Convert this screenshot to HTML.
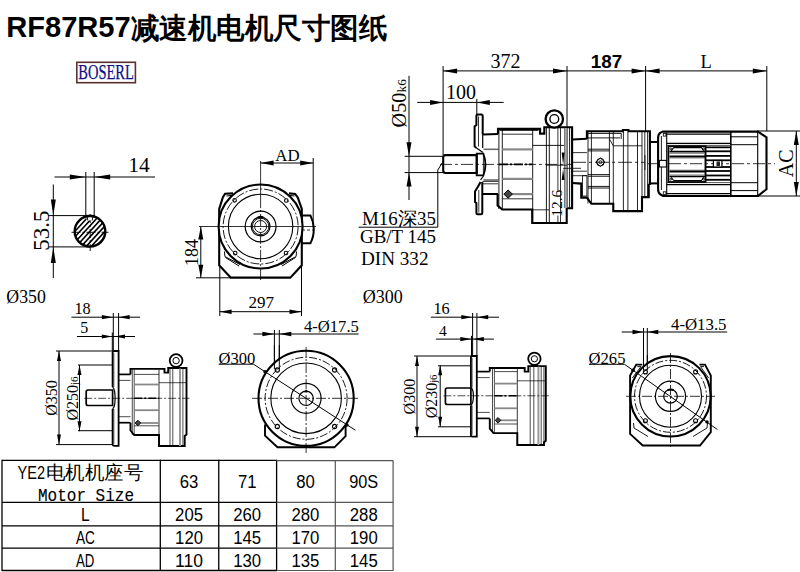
<!DOCTYPE html>
<html><head><meta charset="utf-8"><style>
html,body{margin:0;padding:0;background:#fff;width:800px;height:572px;overflow:hidden}
svg{display:block}
</style></head><body>
<svg width="800" height="572" viewBox="0 0 800 572"><text x="6.2" y="37.4" font-family='"Liberation Sans", sans-serif' font-size="29.5" font-weight="bold" fill="#000" textLength="124.5" lengthAdjust="spacingAndGlyphs">RF87R57</text>
<text x="130.5" y="38" font-family='"Liberation Sans", sans-serif' font-size="28.5" font-weight="bold" fill="#000" textLength="256.5" lengthAdjust="spacingAndGlyphs">减速机电机尺寸图纸</text>
<rect x="76.8" y="62.3" width="58.6" height="20.4" stroke="#5a3030" stroke-width="1.6" fill="none" />
<text x="78.3" y="79" font-family='"Liberation Serif", serif' font-size="20.5" text-anchor="start" font-weight="normal" fill="#101088" textLength="55.6" lengthAdjust="spacingAndGlyphs" stroke="#101088" stroke-width="0.25">BOSERL</text>
<line x1="54.5" y1="177" x2="155" y2="177" stroke="#000" stroke-width="1" />
<polygon points="85.80,177.00 69.80,174.50 69.80,179.50" fill="#000"/>
<polygon points="94.20,177.00 110.20,174.50 110.20,179.50" fill="#000"/>
<line x1="85.8" y1="172" x2="85.8" y2="216" stroke="#000" stroke-width="1" />
<line x1="94.2" y1="172" x2="94.2" y2="216" stroke="#000" stroke-width="1" />
<text x="128.3" y="172.2" font-family='"Liberation Serif", serif' font-size="21.5" text-anchor="start" font-weight="normal" fill="#000" >14</text>
<line x1="53.3" y1="184.5" x2="53.3" y2="278" stroke="#000" stroke-width="1" />
<polygon points="53.30,215.60 50.80,199.60 55.80,199.60" fill="#000"/>
<polygon points="53.30,246.90 50.80,262.90 55.80,262.90" fill="#000"/>
<line x1="48.4" y1="215.6" x2="86" y2="215.6" stroke="#000" stroke-width="1" />
<line x1="48.4" y1="246.9" x2="90" y2="246.9" stroke="#000" stroke-width="1" />
<text transform="translate(48.7,230.6) rotate(-90)" font-family='"Liberation Serif", serif' font-size="23" text-anchor="middle" fill="#000" >53.5</text>
<clipPath id="kc"><circle cx="90" cy="231.3" r="15.2"/></clipPath>
<g clip-path="url(#kc)"><line x1="25" y1="253.3" x2="65" y2="209.3" stroke="#000" stroke-width="1.6"/><line x1="30" y1="253.3" x2="70" y2="209.3" stroke="#000" stroke-width="1.6"/><line x1="35" y1="253.3" x2="75" y2="209.3" stroke="#000" stroke-width="1.6"/><line x1="40" y1="253.3" x2="80" y2="209.3" stroke="#000" stroke-width="1.6"/><line x1="45" y1="253.3" x2="85" y2="209.3" stroke="#000" stroke-width="1.6"/><line x1="50" y1="253.3" x2="90" y2="209.3" stroke="#000" stroke-width="1.6"/><line x1="55" y1="253.3" x2="95" y2="209.3" stroke="#000" stroke-width="1.6"/><line x1="60" y1="253.3" x2="100" y2="209.3" stroke="#000" stroke-width="1.6"/><line x1="65" y1="253.3" x2="105" y2="209.3" stroke="#000" stroke-width="1.6"/><line x1="70" y1="253.3" x2="110" y2="209.3" stroke="#000" stroke-width="1.6"/><line x1="75" y1="253.3" x2="115" y2="209.3" stroke="#000" stroke-width="1.6"/><line x1="80" y1="253.3" x2="120" y2="209.3" stroke="#000" stroke-width="1.6"/><line x1="85" y1="253.3" x2="125" y2="209.3" stroke="#000" stroke-width="1.6"/><line x1="90" y1="253.3" x2="130" y2="209.3" stroke="#000" stroke-width="1.6"/><line x1="95" y1="253.3" x2="135" y2="209.3" stroke="#000" stroke-width="1.6"/><line x1="100" y1="253.3" x2="140" y2="209.3" stroke="#000" stroke-width="1.6"/><line x1="105" y1="253.3" x2="145" y2="209.3" stroke="#000" stroke-width="1.6"/><line x1="110" y1="253.3" x2="150" y2="209.3" stroke="#000" stroke-width="1.6"/><line x1="115" y1="253.3" x2="155" y2="209.3" stroke="#000" stroke-width="1.6"/></g>
<line x1="71.5" y1="232.3" x2="108.5" y2="232.3" stroke="#000" stroke-width="0.9" stroke-dasharray="9 2 2 2"/>
<line x1="90.2" y1="214" x2="90.2" y2="251" stroke="#000" stroke-width="0.9" stroke-dasharray="9 2 2 2"/>
<path d="M85.8,215.6 L94.2,215.6 L93,220.5 L87,220.5 Z" fill="#fff" stroke="none"/>
<path d="M87.2,216.5 L87.8,220.5 M92.8,216.5 L92.2,220.5" stroke="#000" stroke-width="0.9" fill="none" />
<circle cx="90" cy="231.3" r="15.3" stroke="#000" stroke-width="2.4" fill="none" />
<line x1="85.3" y1="215.8" x2="94.7" y2="215.8" stroke="#000" stroke-width="1.8" />
<text x="6.3" y="302.7" font-family='"Liberation Serif", serif' font-size="17.8" text-anchor="start" font-weight="normal" fill="#000" >Ø350</text>
<line x1="260.6" y1="163" x2="313.2" y2="163" stroke="#000" stroke-width="1" />
<polygon points="260.60,163.00 273.60,160.50 273.60,165.50" fill="#000"/>
<polygon points="313.20,163.00 300.20,160.50 300.20,165.50" fill="#000"/>
<line x1="313.2" y1="158" x2="313.2" y2="221" stroke="#000" stroke-width="1" />
<text x="275.3" y="161" font-family='"Liberation Serif", serif' font-size="16.8" text-anchor="start" font-weight="normal" fill="#000" >AD</text>
<path d="M233,193.4 L225.1,193.7 L222.9,197.2 L219.2,209 L219.2,265.3 L230.8,277.6 L290.3,277.6 L301.8,265.3 L301.8,209 L297.8,197.6 L295.2,193.9 L289,193.4" stroke="#000" stroke-width="2.1" fill="none" />
<path d="M226.5,196 L231.5,195.4 L222.5,208 M294.5,196 L289.5,195.4 L298.5,208" stroke="#000" stroke-width="1.0" fill="none" />
<path d="M224.5,251.5 L224.9,256.5 L240,264.5 M296.5,251.5 L296.1,256.5 L281,264.5 M225.5,257.5 L239,266 M295.5,257.5 L282,266" stroke="#000" stroke-width="1.0" fill="none" />
<circle cx="260.6" cy="226.5" r="42" stroke="#000" stroke-width="2.1" fill="#fff" />
<circle cx="260.6" cy="226.5" r="37.5" stroke="#000" stroke-width="0.9" fill="none" stroke-dasharray="9 2 2 2"/>
<circle cx="260.6" cy="226.5" r="32.2" stroke="#000" stroke-width="1.1" fill="none" />
<circle cx="260.6" cy="226.5" r="15.4" stroke="#000" stroke-width="1.2" fill="none" />
<circle cx="260.6" cy="226.5" r="9.4" stroke="#000" stroke-width="1.2" fill="none" />
<circle cx="260.6" cy="226.5" r="8.2" stroke="#000" stroke-width="0.9" fill="none" />
<circle cx="260.6" cy="226.5" r="6.0" stroke="#000" stroke-width="0.9" fill="none" />
<path d="M258.0,217.6 Q260.6,216.3 263.20000000000005,217.6" stroke="#000" stroke-width="2.2" fill="none" />
<circle cx="234.6" cy="200.3" r="1.8" stroke="#000" stroke-width="1.1" fill="none" />
<circle cx="286.3" cy="200.5" r="1.8" stroke="#000" stroke-width="1.1" fill="none" />
<circle cx="235.2" cy="253.1" r="1.8" stroke="#000" stroke-width="1.1" fill="none" />
<circle cx="286" cy="253" r="1.8" stroke="#000" stroke-width="1.1" fill="none" />
<path d="M301.4,215.4 L310.4,215.4 Q313.8,222 313.8,229 Q313.8,237 310.4,243.2 L301.4,243.2" stroke="#000" stroke-width="2" fill="none" />
<line x1="302" y1="230" x2="313" y2="230" stroke="#000" stroke-width="0.8" stroke-dasharray="3 2"/>
<line x1="260.6" y1="161" x2="260.6" y2="196" stroke="#000" stroke-width="0.8" />
<line x1="260.6" y1="196" x2="260.6" y2="281" stroke="#000" stroke-width="0.8" stroke-dasharray="12 2 2 2"/>
<line x1="199" y1="226.5" x2="316" y2="226.5" stroke="#000" stroke-width="0.8" />
<line x1="200.8" y1="226.5" x2="200.8" y2="277.8" stroke="#000" stroke-width="1" />
<polygon points="200.80,226.50 198.30,239.50 203.30,239.50" fill="#000"/>
<polygon points="200.80,277.80 198.30,264.80 203.30,264.80" fill="#000"/>
<line x1="196" y1="277.8" x2="231" y2="277.8" stroke="#000" stroke-width="1" />
<text transform="translate(198,252.6) rotate(-90)" font-family='"Liberation Serif", serif' font-size="18" text-anchor="middle" fill="#000" >184</text>
<line x1="219.8" y1="266" x2="219.8" y2="316" stroke="#000" stroke-width="1" />
<line x1="301.5" y1="266" x2="301.5" y2="316" stroke="#000" stroke-width="1" />
<line x1="443.1" y1="66" x2="443.1" y2="155" stroke="#000" stroke-width="1" />
<line x1="567" y1="66" x2="567" y2="127" stroke="#000" stroke-width="1" />
<line x1="645.6" y1="66" x2="645.6" y2="131" stroke="#000" stroke-width="1" />
<line x1="766.8" y1="66" x2="766.8" y2="131" stroke="#000" stroke-width="1" />
<line x1="443.1" y1="70.9" x2="766.8" y2="70.9" stroke="#000" stroke-width="1" />
<polygon points="443.10,70.90 457.10,68.40 457.10,73.40" fill="#000"/>
<polygon points="567.00,70.90 553.00,68.40 553.00,73.40" fill="#000"/>
<polygon points="645.60,70.90 631.60,68.40 631.60,73.40" fill="#000"/>
<polygon points="645.60,70.90 659.60,68.40 659.60,73.40" fill="#000"/>
<polygon points="766.80,70.90 752.80,68.40 752.80,73.40" fill="#000"/>
<text x="490.5" y="67.5" font-family='"Liberation Serif", serif' font-size="20" text-anchor="start" font-weight="normal" fill="#000" >372</text>
<text x="590.8" y="67.8" font-family='"Liberation Sans", sans-serif' font-size="18.3" text-anchor="start" font-weight="bold" fill="#000" textLength="31.5" lengthAdjust="spacingAndGlyphs">187</text>
<text x="700.4" y="67.6" font-family='"Liberation Serif", serif' font-size="19" text-anchor="start" font-weight="normal" fill="#000" textLength="11.3" lengthAdjust="spacingAndGlyphs">L</text>
<line x1="417.2" y1="102.4" x2="503.7" y2="102.4" stroke="#000" stroke-width="1" />
<polygon points="443.10,102.40 430.10,99.90 430.10,104.90" fill="#000"/>
<polygon points="476.80,102.40 489.80,99.90 489.80,104.90" fill="#000"/>
<line x1="476.8" y1="99" x2="476.8" y2="115" stroke="#000" stroke-width="1" />
<text x="446" y="98.9" font-family='"Liberation Serif", serif' font-size="20" text-anchor="start" font-weight="normal" fill="#000" >100</text>
<line x1="409" y1="75.8" x2="409" y2="200" stroke="#000" stroke-width="1" />
<polygon points="409.00,156.30 406.50,142.30 411.50,142.30" fill="#000"/>
<polygon points="409.00,172.60 406.50,186.60 411.50,186.60" fill="#000"/>
<line x1="404.6" y1="156.3" x2="443" y2="156.3" stroke="#000" stroke-width="1" />
<line x1="404.6" y1="172.6" x2="443" y2="172.6" stroke="#000" stroke-width="1" />
<text transform="translate(405.8,103.2) rotate(-90)" font-family='"Liberation Serif", serif' font-size="20.3" text-anchor="middle" fill="#000" >Ø50<tspan font-size="13.5">k6</tspan></text>
<line x1="757" y1="131" x2="800" y2="131" stroke="#000" stroke-width="1" />
<line x1="757" y1="196" x2="800" y2="196" stroke="#000" stroke-width="1" />
<line x1="796.3" y1="131" x2="796.3" y2="196" stroke="#000" stroke-width="1" />
<polygon points="796.30,131.00 793.80,145.00 798.80,145.00" fill="#000"/>
<polygon points="796.30,196.00 793.80,182.00 798.80,182.00" fill="#000"/>
<text transform="translate(792.5,163.3) rotate(-90)" font-family='"Liberation Serif", serif' font-size="20" text-anchor="middle" fill="#000" >AC</text>
<text x="362" y="225" font-family='"Liberation Serif", serif' font-size="18.5" text-anchor="start" font-weight="normal" fill="#000" textLength="74" lengthAdjust="spacingAndGlyphs">M16深35</text>
<line x1="358.7" y1="227.2" x2="437.8" y2="227.2" stroke="#000" stroke-width="1" />
<line x1="437.8" y1="227.2" x2="437.8" y2="170" stroke="#000" stroke-width="1" />
<line x1="437.8" y1="170" x2="442.5" y2="162.5" stroke="#000" stroke-width="1" />
<text x="360" y="242.5" font-family='"Liberation Serif", serif' font-size="18" text-anchor="start" font-weight="normal" fill="#000" textLength="76" lengthAdjust="spacingAndGlyphs">GB/T 145</text>
<text x="361" y="265" font-family='"Liberation Serif", serif' font-size="18" text-anchor="start" font-weight="normal" fill="#000" textLength="67.5" lengthAdjust="spacingAndGlyphs">DIN 332</text>
<line x1="440" y1="164.4" x2="572" y2="164.4" stroke="#000" stroke-width="0.8" stroke-dasharray="12 3 3 3"/>
<line x1="499" y1="164.4" x2="532" y2="164.4" stroke="#000" stroke-width="1.8" stroke-dasharray="9 2 2 2"/>
<line x1="572" y1="162.3" x2="645" y2="162.3" stroke="#000" stroke-width="0.8" stroke-dasharray="14 3 3 3"/>
<line x1="648" y1="163.7" x2="775" y2="163.7" stroke="#000" stroke-width="0.8" stroke-dasharray="12 3 3 3"/>
<path d="M445.5,155.1 L476.7,155.1 L476.7,173 L445.5,173 Q443.2,173 443.2,170.5 L443.2,157.6 Q443.2,155.1 445.5,155.1 Z" stroke="#000" stroke-width="2.1" fill="none" />
<path d="M476.7,153.7 L483.4,153.7 Q487.5,164.4 483.4,175.4 L476.7,175.4 Z" stroke="#000" stroke-width="1.8" fill="none" />
<line x1="483.4" y1="153.7" x2="483.4" y2="175.4" stroke="#000" stroke-width="0.8" />
<path d="M482.7,134.5 L482.7,116 Q482.7,114.5 481.2,114.5 L477.9,114.5 Q476.4,114.5 476.4,116 L476.4,125 L474.6,126.5 L474.6,146.4 L476.5,148" stroke="#000" stroke-width="2" fill="none" />
<line x1="478.5" y1="116.5" x2="478.5" y2="146.5" stroke="#000" stroke-width="0.8" />
<path d="M482.7,134.5 L482.7,148 M476.5,148 L483,152.5" stroke="#000" stroke-width="1.2" fill="none" />
<path d="M482.3,182 L482.3,213 Q482.3,214.3 481,214.3 L477.7,214.3 Q476.4,214.3 476.4,213 L476.4,203 L475,202 L475,191.5 Q478,187 480.5,182" stroke="#000" stroke-width="2" fill="none" />
<line x1="478.8" y1="190" x2="478.8" y2="212.5" stroke="#000" stroke-width="0.8" />
<path d="M480.5,180 L483.5,176" stroke="#000" stroke-width="1.2" fill="none" />
<line x1="482.7" y1="134.5" x2="498" y2="134.1" stroke="#000" stroke-width="2" />
<line x1="482.3" y1="194" x2="498" y2="194" stroke="#000" stroke-width="2" />
<line x1="483.5" y1="149.3" x2="498.5" y2="149.3" stroke="#6a6a6a" stroke-width="1.6" />
<line x1="483.5" y1="180" x2="498.5" y2="180" stroke="#6a6a6a" stroke-width="1.6" />
<line x1="482.5" y1="181.4" x2="498" y2="181.4" stroke="#000" stroke-width="0.8" />
<line x1="482.5" y1="183.8" x2="498" y2="183.8" stroke="#000" stroke-width="0.8" />
<polyline points="498,134.1 498,128.9 540.1,128.9 540.1,133.6 544.3,133.6 544.3,127.3 572.1,127.3 572.1,139.8" stroke="#000" stroke-width="2.1" fill="none" stroke-linejoin="miter" />
<polyline points="497.6,194.1 497.6,205.6 502.3,209.5 532.2,209.5 532.2,223 566.7,223 566.7,208.3 572.1,208.3 572.1,139" stroke="#000" stroke-width="2.1" fill="none" stroke-linejoin="miter" />
<line x1="499.5" y1="130.5" x2="538.5" y2="130.5" stroke="#000" stroke-width="0.8" />
<line x1="498.9" y1="129.5" x2="498.9" y2="209" stroke="#000" stroke-width="0.9" />
<line x1="502.3" y1="129.5" x2="502.3" y2="209" stroke="#000" stroke-width="0.9" />
<line x1="532.7" y1="129.5" x2="532.7" y2="224" stroke="#000" stroke-width="0.9" />
<line x1="502.3" y1="134.2" x2="532.7" y2="134.2" stroke="#000" stroke-width="0.8" />
<line x1="502.3" y1="149.4" x2="532.7" y2="149.4" stroke="#888" stroke-width="2.2" />
<line x1="502.3" y1="178.9" x2="532.7" y2="178.9" stroke="#888" stroke-width="2.2" />
<line x1="510" y1="194.1" x2="532.7" y2="194.1" stroke="#888" stroke-width="2.2" />
<line x1="502.3" y1="198.8" x2="532.7" y2="198.8" stroke="#000" stroke-width="0.8" />
<line x1="532.7" y1="145.4" x2="564.2" y2="145.4" stroke="#000" stroke-width="0.9" />
<line x1="532.2" y1="209.8" x2="549" y2="209.8" stroke="#000" stroke-width="0.8" />
<polygon points="503.8,194.1 508.1,190 512.4,194.1 508.1,198.2" stroke="#000" stroke-width="1" fill="#444" stroke-linejoin="miter" />
<line x1="546.4" y1="128" x2="546.4" y2="223" stroke="#000" stroke-width="0.9" />
<line x1="549.3" y1="128" x2="549.3" y2="223" stroke="#000" stroke-width="0.9" />
<line x1="560.5" y1="128" x2="560.5" y2="223" stroke="#000" stroke-width="0.8" />
<line x1="564.7" y1="128" x2="564.7" y2="208" stroke="#444" stroke-width="0.9" />
<line x1="566" y1="128" x2="566" y2="208" stroke="#aaa" stroke-width="2.2" />
<line x1="567.3" y1="128" x2="567.3" y2="208" stroke="#444" stroke-width="0.9" />
<line x1="569.6" y1="128" x2="569.6" y2="208" stroke="#000" stroke-width="0.9" />
<text transform="translate(562.2,203.2) rotate(-90)" font-family='"Liberation Serif", serif' font-size="15.5" text-anchor="middle" fill="#000" >12.6</text>
<line x1="557.9" y1="128" x2="557.9" y2="190.5" stroke="#000" stroke-width="0.8" />
<line x1="557.9" y1="215.5" x2="557.9" y2="223" stroke="#000" stroke-width="0.8" />
<polygon points="563.10,165.00 561.70,152.60 564.50,152.60" fill="#000"/>
<polygon points="563.10,168.50 561.70,180.00 564.50,180.00" fill="#000"/>
<line x1="546" y1="165.2" x2="567" y2="165.2" stroke="#000" stroke-width="0.8" />
<line x1="563" y1="168.3" x2="581" y2="168.3" stroke="#000" stroke-width="0.8" />
<line x1="549.5" y1="126.6" x2="559.5" y2="126.6" stroke="#000" stroke-width="1.4" />
<circle cx="554.3" cy="119" r="8.7" stroke="#000" stroke-width="2.3" fill="#fff" />
<circle cx="554.3" cy="119" r="4.4" stroke="#000" stroke-width="1.4" fill="none" />
<polyline points="572.1,139.6 586.9,138.7" stroke="#000" stroke-width="2" fill="none" stroke-linejoin="miter" />
<line x1="573" y1="152.6" x2="586.9" y2="152.6" stroke="#000" stroke-width="0.8" />
<line x1="573" y1="171.2" x2="586.9" y2="171.2" stroke="#000" stroke-width="0.8" />
<line x1="573" y1="175.7" x2="586.9" y2="175.7" stroke="#000" stroke-width="0.8" />
<rect x="582.4" y="175.7" width="4.5" height="20.3" stroke="#000" stroke-width="0.8" fill="none" />
<polyline points="572.1,183 581.25,183.6 581.25,197.6 586.9,197.6 591.4,203.8 613.3,203.8 613.3,211.1 642,211.1 642,197.1 648.75,197.1 648.75,184.1" stroke="#000" stroke-width="2.1" fill="none" stroke-linejoin="miter" />
<polyline points="586.9,139 586.9,131.2 622.9,131.2 622.9,130 628.5,130 628.5,131.2 649.9,131.2 649.9,185" stroke="#000" stroke-width="2.1" fill="none" stroke-linejoin="miter" />
<path d="M588,133.4 L621.2,133.4 L621.2,139 M588,137.9 L620,137.9" stroke="#000" stroke-width="0.9" fill="none" />
<line x1="588" y1="132" x2="588" y2="203.5" stroke="#000" stroke-width="0.85" />
<line x1="591.4" y1="132" x2="591.4" y2="203.5" stroke="#000" stroke-width="0.85" />
<line x1="609.4" y1="132" x2="609.4" y2="203.5" stroke="#000" stroke-width="0.85" />
<line x1="613.3" y1="132" x2="613.3" y2="210.5" stroke="#000" stroke-width="0.85" />
<line x1="623.4" y1="132" x2="623.4" y2="210.5" stroke="#000" stroke-width="0.85" />
<line x1="627.9" y1="132" x2="627.9" y2="210.5" stroke="#000" stroke-width="0.85" />
<line x1="637.5" y1="132" x2="637.5" y2="210.5" stroke="#000" stroke-width="0.85" />
<line x1="642" y1="132" x2="642" y2="210.5" stroke="#000" stroke-width="0.85" />
<line x1="644.8" y1="132" x2="644.8" y2="197" stroke="#000" stroke-width="0.85" />
<line x1="647.6" y1="132" x2="647.6" y2="197" stroke="#000" stroke-width="0.85" />
<line x1="609.4" y1="139" x2="613.3" y2="145.8" stroke="#000" stroke-width="0.85" />
<line x1="613.3" y1="145.8" x2="642" y2="145.8" stroke="#000" stroke-width="0.85" />
<line x1="588" y1="149.2" x2="609.4" y2="149.2" stroke="#000" stroke-width="0.9" />
<line x1="588" y1="150.9" x2="609.4" y2="150.9" stroke="#000" stroke-width="0.9" />
<line x1="588" y1="174.6" x2="609.4" y2="174.6" stroke="#000" stroke-width="0.9" />
<line x1="588" y1="176.25" x2="609.4" y2="176.25" stroke="#000" stroke-width="0.9" />
<line x1="588" y1="186.4" x2="609.4" y2="186.4" stroke="#000" stroke-width="0.9" />
<line x1="588" y1="188" x2="609.4" y2="188" stroke="#000" stroke-width="0.9" />
<circle cx="600.4" cy="162.2" r="3.8" stroke="#000" stroke-width="1" fill="none" />
<polygon points="596,162.2 600.4,157.8 604.8,162.2 600.4,166.6" stroke="#000" stroke-width="1" fill="none" stroke-linejoin="miter" />
<circle cx="600.4" cy="162.2" r="1.5" stroke="#000" stroke-width="0.8" fill="none" />
<line x1="644.8" y1="155" x2="644.8" y2="170" stroke="#333" stroke-width="1.4" />
<line x1="649.9" y1="142" x2="658.1" y2="142" stroke="#000" stroke-width="2" />
<line x1="648.75" y1="183.4" x2="658.1" y2="183.4" stroke="#000" stroke-width="2" />
<path d="M658.1,138 Q658.1,134 660.5,132.6 L663,131.6 L757.9,131.6 L766.5,137.3 L766.5,189.2 L757.9,196 L663,196 L660.5,194.5 Q658.1,193 658.1,189.3 Z" stroke="#000" stroke-width="2.1" fill="none" />
<line x1="661.4" y1="136" x2="661.4" y2="190" stroke="#000" stroke-width="0.9" />
<line x1="666.7" y1="132.5" x2="666.7" y2="195" stroke="#000" stroke-width="1.1" />
<line x1="730.8" y1="131.6" x2="730.8" y2="196" stroke="#000" stroke-width="1.6" />
<line x1="757.7" y1="131.6" x2="757.7" y2="196" stroke="#000" stroke-width="1.1" />
<rect x="663.3" y="133.5" width="2.6" height="2.6" stroke="#000" stroke-width="0.8" fill="none" />
<rect x="663.3" y="191.8" width="2.6" height="2.6" stroke="#000" stroke-width="0.8" fill="none" />
<line x1="666.7" y1="134.2" x2="730.8" y2="134.2" stroke="#000" stroke-width="1.2" />
<line x1="666.7" y1="193.6" x2="730.8" y2="193.6" stroke="#000" stroke-width="1.2" />
<line x1="666.7" y1="143.4" x2="730.8" y2="143.4" stroke="#000" stroke-width="1.3" />
<line x1="666.7" y1="145.4" x2="730.8" y2="145.4" stroke="#555" stroke-width="1.0" />
<line x1="666.7" y1="182.6" x2="730.8" y2="182.6" stroke="#555" stroke-width="1.0" />
<line x1="666.7" y1="184.7" x2="730.8" y2="184.7" stroke="#000" stroke-width="1.3" />
<rect x="668.4" y="146.2" width="37.1" height="35.8" stroke="#000" stroke-width="1.8" fill="none" />
<line x1="669.5" y1="151.6" x2="705" y2="151.6" stroke="#000" stroke-width="1.6" />
<line x1="669.5" y1="153.1" x2="705" y2="153.1" stroke="#777" stroke-width="1.2" />
<line x1="669.5" y1="156.3" x2="705" y2="156.3" stroke="#000" stroke-width="1.6" />
<line x1="669.5" y1="157.8" x2="705" y2="157.8" stroke="#000" stroke-width="0.8" />
<line x1="669.5" y1="170.3" x2="705" y2="170.3" stroke="#000" stroke-width="0.8" />
<line x1="669.5" y1="171.8" x2="705" y2="171.8" stroke="#000" stroke-width="1.6" />
<line x1="669.5" y1="175" x2="705" y2="175" stroke="#777" stroke-width="1.2" />
<line x1="669.5" y1="176.5" x2="705" y2="176.5" stroke="#000" stroke-width="1.6" />
<path d="M673.6,147.6 L701.6,147.6 L703.6,150.8 M673.6,147.6 L671.2,150.8 M673.6,180.5 L701.6,180.5 L703.6,177.3 M673.6,180.5 L671.2,177.3" stroke="#000" stroke-width="1.1" fill="none" />
<circle cx="670.8" cy="148.8" r="0.9" stroke="#000" stroke-width="0.8" fill="none" />
<circle cx="703.5" cy="148.8" r="0.9" stroke="#000" stroke-width="0.8" fill="none" />
<circle cx="670.8" cy="179.3" r="0.9" stroke="#000" stroke-width="0.8" fill="none" />
<circle cx="703.5" cy="179.3" r="0.9" stroke="#000" stroke-width="0.8" fill="none" />
<line x1="705.5" y1="147.3" x2="730.8" y2="147.3" stroke="#000" stroke-width="1.8" />
<line x1="705.5" y1="151.3" x2="730.8" y2="151.3" stroke="#000" stroke-width="1.8" />
<line x1="705.5" y1="155.9" x2="730.8" y2="155.9" stroke="#000" stroke-width="1.8" />
<line x1="705.5" y1="160.3" x2="730.8" y2="160.3" stroke="#000" stroke-width="1.8" />
<line x1="705.5" y1="167" x2="730.8" y2="167" stroke="#000" stroke-width="1.8" />
<line x1="705.5" y1="171" x2="730.8" y2="171" stroke="#000" stroke-width="1.8" />
<line x1="705.5" y1="175.5" x2="730.8" y2="175.5" stroke="#000" stroke-width="1.8" />
<line x1="705.5" y1="179.8" x2="730.8" y2="179.8" stroke="#000" stroke-width="1.8" />
<rect x="713.4" y="160.5" width="8.5" height="6.5" stroke="#000" stroke-width="1.2" fill="#fff" />
<rect x="716.5" y="161.5" width="3.5" height="4.5" stroke="#000" stroke-width="0" fill="#222" />
<rect x="659.4" y="160.4" width="7" height="6.6" stroke="#000" stroke-width="1.1" fill="#fff" />
<line x1="705.5" y1="146.2" x2="705.5" y2="182" stroke="#000" stroke-width="1.2" />
<line x1="730.8" y1="136.8" x2="757.7" y2="136.8" stroke="#000" stroke-width="1.0" />
<line x1="730.8" y1="144.7" x2="757.7" y2="144.7" stroke="#000" stroke-width="1.0" />
<line x1="730.8" y1="182.7" x2="757.7" y2="182.7" stroke="#000" stroke-width="1.0" />
<line x1="730.8" y1="190.6" x2="757.7" y2="190.6" stroke="#000" stroke-width="1.0" />
<text x="74.4" y="313.9" font-family='"Liberation Serif", serif' font-size="16.3" text-anchor="start" font-weight="normal" fill="#000" >18</text>
<line x1="71.4" y1="317.2" x2="140.1" y2="317.2" stroke="#000" stroke-width="1" />
<polygon points="112.90,317.20 101.90,315.10 101.90,319.30" fill="#000"/>
<polygon points="118.60,317.20 129.60,315.10 129.60,319.30" fill="#000"/>
<text x="80.3" y="333.3" font-family='"Liberation Serif", serif' font-size="16" text-anchor="start" font-weight="normal" fill="#000" >5</text>
<line x1="77" y1="336.5" x2="135" y2="336.5" stroke="#000" stroke-width="1" />
<polygon points="112.30,336.50 101.80,334.40 101.80,338.60" fill="#000"/>
<polygon points="114.50,336.50 125.00,334.40 125.00,338.60" fill="#000"/>
<line x1="113.3" y1="313" x2="113.3" y2="351" stroke="#000" stroke-width="1" />
<line x1="112.3" y1="332.5" x2="112.3" y2="351" stroke="#000" stroke-width="1" />
<line x1="118.6" y1="313" x2="118.6" y2="351" stroke="#000" stroke-width="1" />
<line x1="59" y1="351" x2="59" y2="444.6" stroke="#000" stroke-width="1" />
<polygon points="59.00,351.00 57.00,361.00 61.00,361.00" fill="#000"/>
<polygon points="59.00,444.60 57.00,434.60 61.00,434.60" fill="#000"/>
<line x1="56" y1="351" x2="112" y2="351" stroke="#000" stroke-width="1" />
<line x1="56" y1="444.6" x2="112" y2="444.6" stroke="#000" stroke-width="1" />
<text transform="translate(56.5,398) rotate(-90)" font-family='"Liberation Serif", serif' font-size="16" text-anchor="middle" fill="#000" >Ø350</text>
<line x1="79.5" y1="365.1" x2="79.5" y2="431.2" stroke="#000" stroke-width="1" />
<polygon points="79.50,365.10 77.50,375.10 81.50,375.10" fill="#000"/>
<polygon points="79.50,431.20 77.50,421.20 81.50,421.20" fill="#000"/>
<line x1="78" y1="365" x2="112" y2="365" stroke="#000" stroke-width="1" />
<line x1="78" y1="430.7" x2="112" y2="430.7" stroke="#000" stroke-width="1" />
<text transform="translate(77.8,398.5) rotate(-90)" font-family='"Liberation Serif", serif' font-size="16" text-anchor="middle" fill="#000" >Ø250<tspan font-size="11">j6</tspan></text>
<path d="M88.0,390 L112.6,390 L112.6,405.5 L88.0,405.5 Q86.2,405.5 86.2,403.5 L86.2,392 Q86.2,390 88.0,390 Z" stroke="#000" stroke-width="1.7" fill="none" />
<path d="M112.6,387 L112.6,352.5 Q112.6,351 114.1,351 L118.6,351 L118.6,445.8 L114.1,445.8 Q112.6,445.8 112.6,444.3 L112.6,409" stroke="#000" stroke-width="1.8" fill="none" />
<path d="M112.6,387 Q115.1,389 115.1,398.3 Q115.1,407 112.6,409" stroke="#000" stroke-width="1.2" fill="none" />
<line x1="113.89999999999999" y1="353" x2="113.89999999999999" y2="387" stroke="#000" stroke-width="0.6" />
<line x1="113.89999999999999" y1="409" x2="113.89999999999999" y2="443.8" stroke="#000" stroke-width="0.6" />
<line x1="118.6" y1="374.4" x2="130.5" y2="374.4" stroke="#000" stroke-width="1.7" />
<line x1="118.6" y1="422.7" x2="130.5" y2="422.7" stroke="#000" stroke-width="1.7" />
<line x1="118.6" y1="380.4" x2="130.5" y2="380.4" stroke="#000" stroke-width="0.7" />
<line x1="118.6" y1="416.7" x2="130.5" y2="416.7" stroke="#000" stroke-width="0.7" />
<polyline points="130.5,374.4 130.5,368.9 164.5,368.9 164.5,372.6 168.2,372.6 168.2,368 186.5,368 186.5,434.5 184.7,436 184.7,446 159,446 159,435 134.2,435 130.5,430.5 130.5,422.7" stroke="#000" stroke-width="1.9" fill="none" stroke-linejoin="miter" />
<line x1="132.3" y1="369.4" x2="132.3" y2="435" stroke="#000" stroke-width="0.7" />
<line x1="134.2" y1="369.4" x2="134.2" y2="435" stroke="#000" stroke-width="0.7" />
<line x1="159" y1="369.4" x2="159" y2="446" stroke="#000" stroke-width="0.8" />
<line x1="170" y1="368.5" x2="170" y2="446" stroke="#000" stroke-width="0.7" />
<line x1="172.8" y1="368.5" x2="172.8" y2="446" stroke="#000" stroke-width="0.7" />
<line x1="180" y1="368.5" x2="180" y2="446" stroke="#999" stroke-width="2.0" />
<line x1="182.9" y1="368.5" x2="182.9" y2="446" stroke="#000" stroke-width="0.7" />
<line x1="134.2" y1="374.4" x2="159" y2="374.4" stroke="#000" stroke-width="0.7" />
<line x1="134.2" y1="384.5" x2="159" y2="384.5" stroke="#888" stroke-width="1.8" />
<line x1="134.2" y1="410.2" x2="159" y2="410.2" stroke="#888" stroke-width="1.8" />
<line x1="140" y1="423" x2="159" y2="423" stroke="#888" stroke-width="1.8" />
<line x1="134.2" y1="425.8" x2="159" y2="425.8" stroke="#000" stroke-width="0.7" />
<line x1="159" y1="382.7" x2="186.5" y2="382.7" stroke="#000" stroke-width="0.7" />
<polygon points="135.1,423 137.9,420.2 140.70000000000002,423 137.9,425.8" stroke="#000" stroke-width="0.9" fill="#444" stroke-linejoin="miter" />
<line x1="172.6" y1="367.4" x2="179.6" y2="367.4" stroke="#000" stroke-width="1.2" />
<circle cx="176.1" cy="360.6" r="6.4" stroke="#000" stroke-width="1.8" fill="#fff" />
<circle cx="176.1" cy="360.6" r="3.2" stroke="#000" stroke-width="1.0" fill="none" />
<line x1="84.2" y1="398.3" x2="189.5" y2="398.3" stroke="#000" stroke-width="0.7" stroke-dasharray="8 2 2 2"/>
<line x1="134.2" y1="398.3" x2="159" y2="398.3" stroke="#000" stroke-width="1.5" stroke-dasharray="8 2 2 2"/>
<text x="248.6" y="308.2" font-family='"Liberation Serif", serif' font-size="17" text-anchor="start" font-weight="normal" fill="#000" >297</text>
<line x1="219.6" y1="311.7" x2="301.5" y2="311.7" stroke="#000" stroke-width="1" />
<polygon points="219.60,311.70 231.60,309.45 231.60,313.95" fill="#000"/>
<polygon points="301.50,311.70 289.50,309.45 289.50,313.95" fill="#000"/>
<text x="304" y="331.7" font-family='"Liberation Serif", serif' font-size="16.6" text-anchor="start" font-weight="normal" fill="#000" >4-Ø17.5</text>
<line x1="253.4" y1="334" x2="358.6" y2="334" stroke="#000" stroke-width="1" />
<polygon points="274.40,334.00 262.40,331.75 262.40,336.25" fill="#000"/>
<polygon points="279.30,334.00 291.30,331.75 291.30,336.25" fill="#000"/>
<line x1="274.4" y1="330" x2="274.4" y2="368" stroke="#000" stroke-width="1" />
<line x1="279.3" y1="330" x2="279.3" y2="368" stroke="#000" stroke-width="1" />
<polyline points="265,424.4 265,435.6 277.5,447.3 334.4,447.3 345.6,436.2 345.6,425" stroke="#000" stroke-width="1.9" fill="none" stroke-linejoin="miter" />
<circle cx="306.1" cy="398.3" r="47.6" stroke="#000" stroke-width="2.1" fill="#fff" />
<circle cx="306.1" cy="398.3" r="41" stroke="#000" stroke-width="0.9" fill="none" stroke-dasharray="8 2 2 2"/>
<circle cx="306.1" cy="398.3" r="35.3" stroke="#000" stroke-width="1.1" fill="none" />
<circle cx="306.1" cy="398.3" r="15" stroke="#000" stroke-width="1.2" fill="none" />
<circle cx="306.1" cy="398.3" r="7.2" stroke="#000" stroke-width="1.2" fill="none" />
<polygon points="303.90000000000003,391.90000000000003 306.1,389.7 308.3,391.90000000000003" stroke="#000" stroke-width="0.5" fill="#000" stroke-linejoin="miter" />
<circle cx="277.3" cy="370" r="2.1" stroke="#000" stroke-width="1.1" fill="none" />
<circle cx="334.6" cy="370" r="2.1" stroke="#000" stroke-width="1.1" fill="none" />
<circle cx="277.3" cy="426.5" r="2.1" stroke="#000" stroke-width="1.1" fill="none" />
<circle cx="334.6" cy="426.5" r="2.1" stroke="#000" stroke-width="1.1" fill="none" />
<line x1="252" y1="398.3" x2="358.6" y2="398.3" stroke="#000" stroke-width="0.8" stroke-dasharray="10 2 2 2"/>
<line x1="306.1" y1="347" x2="306.1" y2="453.6" stroke="#000" stroke-width="0.8" stroke-dasharray="10 2 2 2"/>
<line x1="274.4" y1="345" x2="274.4" y2="369" stroke="#000" stroke-width="1" />
<line x1="279.3" y1="345" x2="279.3" y2="369" stroke="#000" stroke-width="1" />
<text x="218.5" y="364.3" font-family='"Liberation Serif", serif' font-size="16.6" text-anchor="start" font-weight="normal" fill="#000" >Ø300</text>
<line x1="218.7" y1="364.2" x2="253.4" y2="364.2" stroke="#000" stroke-width="1" />
<line x1="253.4" y1="364.2" x2="355.5" y2="430.3" stroke="#000" stroke-width="1" />
<circle cx="265" cy="371.7" r="1.7" stroke="#000" stroke-width="0" fill="#000" />
<circle cx="346.9" cy="425" r="1.7" stroke="#000" stroke-width="0" fill="#000" />
<text x="362.8" y="302.6" font-family='"Liberation Serif", serif' font-size="18" text-anchor="start" font-weight="normal" fill="#000" >Ø300</text>
<text x="433.4" y="314" font-family='"Liberation Serif", serif' font-size="16.3" text-anchor="start" font-weight="normal" fill="#000" >16</text>
<line x1="430.8" y1="317.2" x2="499" y2="317.2" stroke="#000" stroke-width="1" />
<polygon points="472.30,317.20 461.30,315.10 461.30,319.30" fill="#000"/>
<polygon points="477.20,317.20 488.20,315.10 488.20,319.30" fill="#000"/>
<text x="439" y="335.6" font-family='"Liberation Serif", serif' font-size="15.5" text-anchor="start" font-weight="normal" fill="#000" >4</text>
<line x1="435.9" y1="339.1" x2="493.9" y2="339.1" stroke="#000" stroke-width="1" />
<polygon points="471.30,339.10 460.30,337.00 460.30,341.20" fill="#000"/>
<polygon points="472.90,339.10 483.90,337.00 483.90,341.20" fill="#000"/>
<line x1="472.6" y1="313" x2="472.6" y2="356" stroke="#000" stroke-width="1" />
<line x1="471.5" y1="335.9" x2="471.5" y2="356" stroke="#000" stroke-width="1" />
<line x1="476.9" y1="313" x2="476.9" y2="356" stroke="#000" stroke-width="1" />
<line x1="417" y1="356" x2="417" y2="436.7" stroke="#000" stroke-width="1" />
<polygon points="417.00,356.00 415.00,366.00 419.00,366.00" fill="#000"/>
<polygon points="417.00,436.70 415.00,426.70 419.00,426.70" fill="#000"/>
<line x1="414" y1="356" x2="471" y2="356" stroke="#000" stroke-width="1" />
<line x1="414" y1="436.7" x2="471" y2="436.7" stroke="#000" stroke-width="1" />
<text transform="translate(415.2,396.6) rotate(-90)" font-family='"Liberation Serif", serif' font-size="16" text-anchor="middle" fill="#000" >Ø300</text>
<line x1="440.2" y1="365.3" x2="440.2" y2="426.8" stroke="#000" stroke-width="1" />
<polygon points="440.20,365.30 438.20,375.30 442.20,375.30" fill="#000"/>
<polygon points="440.20,426.80 438.20,416.80 442.20,416.80" fill="#000"/>
<line x1="438" y1="365.8" x2="471" y2="365.8" stroke="#000" stroke-width="1" />
<line x1="438" y1="426.8" x2="471" y2="426.8" stroke="#000" stroke-width="1" />
<text transform="translate(437,396.5) rotate(-90)" font-family='"Liberation Serif", serif' font-size="16" text-anchor="middle" fill="#000" >Ø230<tspan font-size="10.5">j6</tspan></text>
<path d="M447.2,388 L470.9,388 L470.9,404.5 L447.2,404.5 Q445.4,404.5 445.4,402.5 L445.4,390 Q445.4,388 447.2,388 Z" stroke="#000" stroke-width="1.7" fill="none" />
<path d="M470.9,387.5 L470.9,357.5 Q470.9,356 472.4,356 L476.8,356 L476.8,436.7 L472.4,436.7 Q470.9,436.7 470.9,435.2 L470.9,405.5" stroke="#000" stroke-width="1.8" fill="none" />
<path d="M470.9,387.5 Q473.4,389.5 473.4,395.8 Q473.4,403.5 470.9,405.5" stroke="#000" stroke-width="1.2" fill="none" />
<line x1="472.2" y1="358" x2="472.2" y2="387.5" stroke="#000" stroke-width="0.6" />
<line x1="472.2" y1="405.5" x2="472.2" y2="434.7" stroke="#000" stroke-width="0.6" />
<line x1="476.8" y1="371.6" x2="489.8" y2="371.6" stroke="#000" stroke-width="1.7" />
<line x1="476.8" y1="418.4" x2="489.8" y2="418.4" stroke="#000" stroke-width="1.7" />
<line x1="476.8" y1="377.6" x2="489.8" y2="377.6" stroke="#000" stroke-width="0.7" />
<line x1="476.8" y1="412.4" x2="489.8" y2="412.4" stroke="#000" stroke-width="0.7" />
<polyline points="489.8,371.6 489.8,368 524.7,368 524.7,371.6 528.3,371.6 528.3,366.1 545.8,366.1 545.8,440.8 544.0,442.3 544.0,445 517.3,445 517.3,433.1 493.5,433.1 489.8,428.6 489.8,418.4" stroke="#000" stroke-width="1.9" fill="none" stroke-linejoin="miter" />
<line x1="492.5" y1="368.5" x2="492.5" y2="433.1" stroke="#000" stroke-width="0.7" />
<line x1="494.4" y1="368.5" x2="494.4" y2="433.1" stroke="#000" stroke-width="0.7" />
<line x1="517.3" y1="368.5" x2="517.3" y2="445" stroke="#000" stroke-width="0.8" />
<line x1="530.2" y1="366.6" x2="530.2" y2="445" stroke="#000" stroke-width="0.7" />
<line x1="533.8" y1="366.6" x2="533.8" y2="445" stroke="#000" stroke-width="0.7" />
<line x1="538.4" y1="366.6" x2="538.4" y2="445" stroke="#999" stroke-width="2.0" />
<line x1="541.2" y1="366.6" x2="541.2" y2="445" stroke="#000" stroke-width="0.7" />
<line x1="543.9" y1="366.6" x2="543.9" y2="445" stroke="#000" stroke-width="0.7" />
<line x1="494.4" y1="371.6" x2="517.3" y2="371.6" stroke="#000" stroke-width="0.7" />
<line x1="494.4" y1="383.6" x2="517.3" y2="383.6" stroke="#888" stroke-width="1.8" />
<line x1="494.4" y1="408.3" x2="517.3" y2="408.3" stroke="#888" stroke-width="1.8" />
<line x1="500" y1="420.3" x2="517.3" y2="420.3" stroke="#888" stroke-width="1.8" />
<line x1="494.4" y1="424" x2="517.3" y2="424" stroke="#000" stroke-width="0.7" />
<line x1="517.3" y1="380.8" x2="545.8" y2="380.8" stroke="#000" stroke-width="0.7" />
<polygon points="495.2,420.3 498,417.5 500.8,420.3 498,423.1" stroke="#000" stroke-width="0.9" fill="#444" stroke-linejoin="miter" />
<line x1="530.9" y1="365.5" x2="537.9" y2="365.5" stroke="#000" stroke-width="1.2" />
<circle cx="534.4" cy="358.8" r="6.2" stroke="#000" stroke-width="1.8" fill="#fff" />
<circle cx="534.4" cy="358.8" r="3.1" stroke="#000" stroke-width="1.0" fill="none" />
<line x1="443.4" y1="395.8" x2="548.8" y2="395.8" stroke="#000" stroke-width="0.7" stroke-dasharray="8 2 2 2"/>
<line x1="494.4" y1="395.8" x2="517.3" y2="395.8" stroke="#000" stroke-width="1.5" stroke-dasharray="8 2 2 2"/>
<text x="671" y="329.6" font-family='"Liberation Serif", serif' font-size="16.8" text-anchor="start" font-weight="normal" fill="#000" >4-Ø13.5</text>
<line x1="621.7" y1="332" x2="727.2" y2="332" stroke="#000" stroke-width="1" />
<polygon points="643.50,332.00 632.50,329.75 632.50,334.25" fill="#000"/>
<polygon points="647.30,332.00 658.30,329.75 658.30,334.25" fill="#000"/>
<line x1="643.5" y1="328" x2="643.5" y2="367" stroke="#000" stroke-width="1" />
<line x1="647.3" y1="328" x2="647.3" y2="367" stroke="#000" stroke-width="1" />
<path d="M642.3,364.6 L636.3,364.6 L630.1,375.5 L630.1,433.9 L642.7,445.5 L700,445.5 L710.8,432.2 L710.8,375.5 L705,364.6 L699.5,364.6" stroke="#000" stroke-width="1.9" fill="none" />
<path d="M637.3,366.6 L641,366.6 L632.3,378 M704,366.6 L700.5,366.6 L708.6,378" stroke="#000" stroke-width="0.9" fill="none" />
<path d="M633.5,423 L634,428 L648,436.5 M707.5,423 L707,428 L693,436.5" stroke="#000" stroke-width="0.9" fill="none" />
<circle cx="670.5" cy="396.3" r="40.2" stroke="#000" stroke-width="2.1" fill="#fff" />
<circle cx="670.5" cy="396.3" r="36" stroke="#000" stroke-width="0.9" fill="none" stroke-dasharray="8 2 2 2"/>
<circle cx="670.5" cy="396.3" r="31" stroke="#000" stroke-width="1.1" fill="none" />
<circle cx="670.5" cy="396.3" r="15.1" stroke="#000" stroke-width="1.2" fill="none" />
<circle cx="670.5" cy="396.3" r="6.8" stroke="#000" stroke-width="1.2" fill="none" />
<path d="M667.5,390.2 Q670.5,388.7 673.5,390.2" stroke="#000" stroke-width="2" fill="none" />
<circle cx="645.4" cy="371.9" r="2" stroke="#000" stroke-width="1.1" fill="none" />
<circle cx="695.6" cy="371.9" r="2" stroke="#000" stroke-width="1.1" fill="none" />
<circle cx="645.4" cy="420.8" r="2" stroke="#000" stroke-width="1.1" fill="none" />
<circle cx="695.6" cy="420.8" r="2" stroke="#000" stroke-width="1.1" fill="none" />
<line x1="626" y1="396.3" x2="715" y2="396.3" stroke="#000" stroke-width="0.8" stroke-dasharray="10 2 2 2"/>
<line x1="670.5" y1="353" x2="670.5" y2="447" stroke="#000" stroke-width="0.8" stroke-dasharray="10 2 2 2"/>
<line x1="643.5" y1="355" x2="643.5" y2="370" stroke="#000" stroke-width="1" />
<line x1="647.3" y1="355" x2="647.3" y2="370" stroke="#000" stroke-width="1" />
<text x="588.6" y="364" font-family='"Liberation Serif", serif' font-size="16.6" text-anchor="start" font-weight="normal" fill="#000" >Ø265</text>
<line x1="589" y1="364.3" x2="624.5" y2="364.3" stroke="#000" stroke-width="1" />
<line x1="624.5" y1="364.3" x2="717.4" y2="429.5" stroke="#000" stroke-width="1" />
<circle cx="633" cy="370.3" r="1.7" stroke="#000" stroke-width="0" fill="#000" />
<circle cx="707" cy="421.9" r="1.7" stroke="#000" stroke-width="0" fill="#000" />
<line x1="2" y1="459.7" x2="2" y2="571.1" stroke="#000" stroke-width="1.3" />
<line x1="160.3" y1="459.7" x2="160.3" y2="571.1" stroke="#000" stroke-width="1.3" />
<line x1="218.75" y1="459.7" x2="218.75" y2="571.1" stroke="#000" stroke-width="1.3" />
<line x1="276.6" y1="459.7" x2="276.6" y2="571.1" stroke="#000" stroke-width="1.3" />
<line x1="335.3" y1="460.6" x2="335.3" y2="571.1" stroke="#555" stroke-width="1.2" />
<line x1="393.1" y1="460.6" x2="393.1" y2="571.1" stroke="#555" stroke-width="1.2" />
<line x1="2" y1="460.3" x2="276.6" y2="460.3" stroke="#000" stroke-width="1.3" />
<line x1="2" y1="502.3" x2="276.6" y2="502.3" stroke="#000" stroke-width="1.3" />
<line x1="2" y1="525.8" x2="276.6" y2="525.8" stroke="#000" stroke-width="1.3" />
<line x1="2" y1="548.1" x2="276.6" y2="548.1" stroke="#000" stroke-width="1.3" />
<line x1="2" y1="570.5" x2="276.6" y2="570.5" stroke="#000" stroke-width="1.3" />
<line x1="276.6" y1="460.7" x2="393.1" y2="460.7" stroke="#555" stroke-width="1.2" />
<line x1="276.6" y1="502.3" x2="393.1" y2="502.3" stroke="#555" stroke-width="1.2" />
<line x1="276.6" y1="525.8" x2="393.1" y2="525.8" stroke="#555" stroke-width="1.2" />
<line x1="276.6" y1="548.1" x2="393.1" y2="548.1" stroke="#555" stroke-width="1.2" />
<line x1="276.6" y1="570.5" x2="393.1" y2="570.5" stroke="#555" stroke-width="1.2" />
<text x="17.5" y="479.4" font-family='"Liberation Sans", sans-serif' font-size="19.2" textLength="27.5" lengthAdjust="spacingAndGlyphs" fill="#000">YE2</text>
<text x="45.5" y="479" font-family='"Liberation Sans", sans-serif' font-size="19" textLength="97.5" lengthAdjust="spacingAndGlyphs" fill="#000">电机机座号</text>
<text x="38" y="500.6" font-family='"Liberation Mono", monospace' font-size="18.8" textLength="96" lengthAdjust="spacingAndGlyphs" fill="#000" stroke="#000" stroke-width="0.15">Motor Size</text>
<text x="179.7" y="487.8" font-family='"Liberation Sans", sans-serif' font-size="17.6" textLength="18.6" lengthAdjust="spacingAndGlyphs" fill="#000">63</text>
<text x="237.9" y="487.8" font-family='"Liberation Sans", sans-serif' font-size="17.6" textLength="18.6" lengthAdjust="spacingAndGlyphs" fill="#000">71</text>
<text x="296.2" y="487.8" font-family='"Liberation Sans", sans-serif' font-size="17.6" textLength="18.6" lengthAdjust="spacingAndGlyphs" fill="#000">80</text>
<text x="349.2" y="487.8" font-family='"Liberation Sans", sans-serif' font-size="17.6" textLength="29.0" lengthAdjust="spacingAndGlyphs" fill="#000">90S</text>
<text x="175.1" y="520.8" font-family='"Liberation Sans", sans-serif' font-size="17.6" textLength="27.9" lengthAdjust="spacingAndGlyphs" fill="#000">205</text>
<text x="233.2" y="520.8" font-family='"Liberation Sans", sans-serif' font-size="17.6" textLength="27.9" lengthAdjust="spacingAndGlyphs" fill="#000">260</text>
<text x="291.5" y="520.8" font-family='"Liberation Sans", sans-serif' font-size="17.6" textLength="27.9" lengthAdjust="spacingAndGlyphs" fill="#000">280</text>
<text x="349.8" y="520.8" font-family='"Liberation Sans", sans-serif' font-size="17.6" textLength="27.9" lengthAdjust="spacingAndGlyphs" fill="#000">288</text>
<text x="175.1" y="544" font-family='"Liberation Sans", sans-serif' font-size="17.6" textLength="27.9" lengthAdjust="spacingAndGlyphs" fill="#000">120</text>
<text x="233.2" y="544" font-family='"Liberation Sans", sans-serif' font-size="17.6" textLength="27.9" lengthAdjust="spacingAndGlyphs" fill="#000">145</text>
<text x="291.5" y="544" font-family='"Liberation Sans", sans-serif' font-size="17.6" textLength="27.9" lengthAdjust="spacingAndGlyphs" fill="#000">170</text>
<text x="349.8" y="544" font-family='"Liberation Sans", sans-serif' font-size="17.6" textLength="27.9" lengthAdjust="spacingAndGlyphs" fill="#000">190</text>
<text x="175.1" y="567.3" font-family='"Liberation Sans", sans-serif' font-size="17.6" textLength="27.9" lengthAdjust="spacingAndGlyphs" fill="#000">110</text>
<text x="233.2" y="567.3" font-family='"Liberation Sans", sans-serif' font-size="17.6" textLength="27.9" lengthAdjust="spacingAndGlyphs" fill="#000">130</text>
<text x="291.5" y="567.3" font-family='"Liberation Sans", sans-serif' font-size="17.6" textLength="27.9" lengthAdjust="spacingAndGlyphs" fill="#000">135</text>
<text x="349.8" y="567.3" font-family='"Liberation Sans", sans-serif' font-size="17.6" textLength="27.9" lengthAdjust="spacingAndGlyphs" fill="#000">145</text>
<text x="81" y="521" font-family='"Liberation Sans", sans-serif' font-size="17.6" textLength="8.6" lengthAdjust="spacingAndGlyphs" fill="#000">L</text>
<text x="76" y="543.6" font-family='"Liberation Sans", sans-serif' font-size="17.6" textLength="19.0" lengthAdjust="spacingAndGlyphs" fill="#000">AC</text>
<text x="76" y="566.6" font-family='"Liberation Sans", sans-serif' font-size="17.6" textLength="18.4" lengthAdjust="spacingAndGlyphs" fill="#000">AD</text></svg>
</body></html>
